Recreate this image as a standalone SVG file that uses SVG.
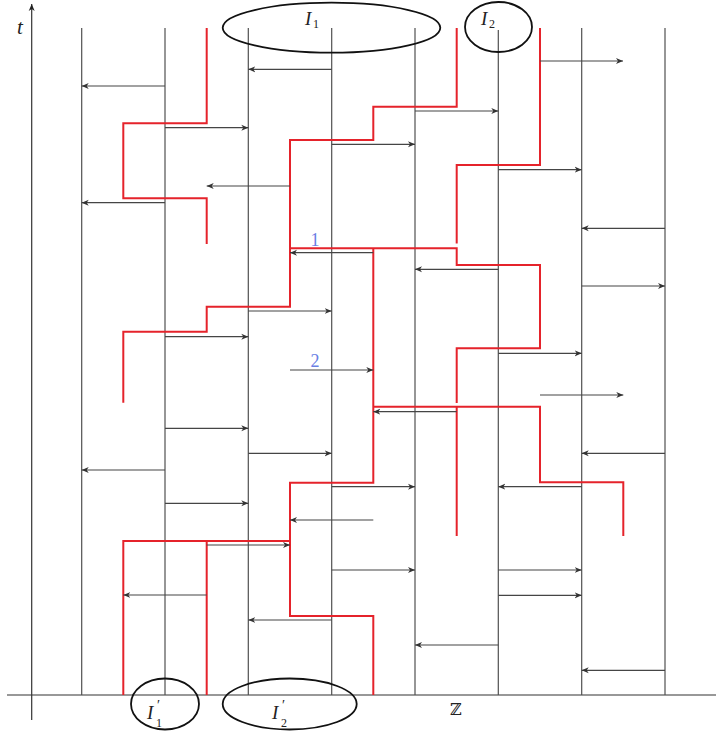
<svg xmlns="http://www.w3.org/2000/svg" width="716" height="732" viewBox="0 0 716 732">
<style>
.lane{stroke:#505050;stroke-width:1.2;fill:none}
.axis{stroke:#333;stroke-width:1.2;fill:none}
.arr{stroke:#454545;stroke-width:1.2;fill:none;marker-end:url(#ah)}
.red{stroke:#e5232b;stroke-width:2;fill:none;stroke-linejoin:miter}
.ell{stroke:#111;stroke-width:1.8;fill:none}
.lbl{font-family:"Liberation Serif","DejaVu Serif",serif;fill:#222}
.it{font-style:italic;font-size:19px}
.sub{font-size:12px}
.num{font-family:"Liberation Serif","DejaVu Serif",serif;fill:#6a80e4;font-size:18px}
</style>
<defs>
<marker id="ah" markerUnits="userSpaceOnUse" markerWidth="9" markerHeight="8" refX="7" refY="4" orient="auto">
<path d="M0,1 L7,4 L0,7 L2,4 z" fill="#333"/>
</marker>
<marker id="ahax" markerUnits="userSpaceOnUse" markerWidth="9" markerHeight="8" refX="7" refY="4" orient="auto">
<path d="M0,1 L7,4 L0,7 L2,4 z" fill="#222"/>
</marker>
</defs>
<rect width="716" height="732" fill="#fff"/>
<g id="axes">
<line class="axis" x1="7" y1="695" x2="716" y2="695"/>
<line class="axis" x1="31.7" y1="720" x2="31.7" y2="4" marker-end="url(#ahax)"/>
<text class="lbl" x="17" y="34" font-size="21" font-style="italic">t</text>
<text class="lbl" x="450" y="715" font-size="16" font-family="DejaVu Sans">ℤ</text>
</g>
<g id="lanes">
<line class="lane" x1="81.7" y1="28" x2="81.7" y2="695"/>
<line class="lane" x1="165" y1="28" x2="165" y2="695"/>
<line class="lane" x1="248.3" y1="28" x2="248.3" y2="695"/>
<line class="lane" x1="331.7" y1="28" x2="331.7" y2="695"/>
<line class="lane" x1="415" y1="28" x2="415" y2="695"/>
<line class="lane" x1="498.3" y1="30" x2="498.3" y2="695"/>
<line class="lane" x1="581.7" y1="28" x2="581.7" y2="695"/>
<line class="lane" x1="665" y1="28" x2="665" y2="695"/>
</g>
<g id="red-paths">
<path class="red" d="M206.7,28 V123.3 H123.3 V198.3 H206.7 V244"/>
<path class="red" d="M456.7,28 V106.7 H373.3 V140 H290 V306.7 H206.7 V331.7 H123.3 V402.7"/>
<path class="red" d="M540,28 V165 H456.7 V243.5"/>
<path class="red" d="M290,248.3 H456.7 V265 H540 V348.3 H456.7 V403"/>
<path class="red" d="M373.3,248.3 V482.7 H290 V616 H373.3 V695"/>
<path class="red" d="M373.3,406.7 H540 V482.3 H623.3 V536"/>
<path class="red" d="M456.7,406.7 V536"/>
<path class="red" d="M123.3,695 V541 H290 M206.7,541 V695"/>
</g>
<g id="connectors">
<line class="arr" x1="331.7" y1="69.3" x2="248.3" y2="69.3"/>
<line class="arr" x1="540" y1="61" x2="623" y2="61"/>
<line class="arr" x1="165" y1="86" x2="81.7" y2="86"/>
<line class="arr" x1="415" y1="111" x2="498.3" y2="111"/>
<line class="arr" x1="165" y1="127.7" x2="248.3" y2="127.7"/>
<line class="arr" x1="331.7" y1="144.3" x2="415" y2="144.3"/>
<line class="arr" x1="498.3" y1="169.7" x2="581.7" y2="169.7"/>
<line class="arr" x1="290" y1="186" x2="206.7" y2="186"/>
<line class="arr" x1="165" y1="202.7" x2="81.7" y2="202.7"/>
<line class="arr" x1="665" y1="228.3" x2="581.7" y2="228.3"/>
<line class="arr" x1="373.3" y1="252.7" x2="290" y2="252.7"/>
<line class="arr" x1="498.3" y1="269.3" x2="415" y2="269.3"/>
<line class="arr" x1="581.7" y1="286" x2="665" y2="286"/>
<line class="arr" x1="248.3" y1="311" x2="331.7" y2="311"/>
<line class="arr" x1="165" y1="336.7" x2="248.3" y2="336.7"/>
<line class="arr" x1="498.3" y1="353.3" x2="581.7" y2="353.3"/>
<line class="arr" x1="290" y1="370" x2="373.3" y2="370"/>
<line class="arr" x1="540" y1="395" x2="623.3" y2="395"/>
<line class="arr" x1="456.7" y1="411.7" x2="373.3" y2="411.7"/>
<line class="arr" x1="165" y1="428.3" x2="248.3" y2="428.3"/>
<line class="arr" x1="248.3" y1="453.3" x2="331.7" y2="453.3"/>
<line class="arr" x1="665" y1="453.3" x2="581.7" y2="453.3"/>
<line class="arr" x1="165" y1="470" x2="81.7" y2="470"/>
<line class="arr" x1="331.7" y1="486.7" x2="415" y2="486.7"/>
<line class="arr" x1="581.7" y1="486.7" x2="498.3" y2="486.7"/>
<line class="arr" x1="165" y1="503.3" x2="248.3" y2="503.3"/>
<line class="arr" x1="373.3" y1="520" x2="290" y2="520"/>
<line class="arr" x1="206.7" y1="545" x2="290" y2="545"/>
<line class="arr" x1="331.7" y1="570" x2="415" y2="570"/>
<line class="arr" x1="498.3" y1="570" x2="581.7" y2="570"/>
<line class="arr" x1="206.7" y1="595" x2="123.3" y2="595"/>
<line class="arr" x1="498.3" y1="595.3" x2="581.7" y2="595.3"/>
<line class="arr" x1="331.7" y1="620" x2="248.3" y2="620"/>
<line class="arr" x1="498.3" y1="645" x2="415" y2="645"/>
<line class="arr" x1="665" y1="670.3" x2="581.7" y2="670.3"/>
</g>
<g id="labels-numbers">
<text class="num" x="315" y="246" text-anchor="middle">1</text>
<text class="num" x="315" y="367" text-anchor="middle">2</text>
</g>
<g id="I1">
<ellipse class="ell" cx="331.5" cy="27.7" rx="108.8" ry="25"/>
<text class="lbl it" x="305" y="25">I</text>
<text class="lbl sub" x="313" y="28">1</text>
</g>
<g id="I2">
<ellipse class="ell" cx="498.5" cy="27" rx="33.5" ry="25"/>
<text class="lbl it" x="481" y="25">I</text>
<text class="lbl sub" x="489" y="28">2</text>
</g>
<g id="I1p">
<ellipse class="ell" cx="165" cy="704" rx="34" ry="25.5"/>
<text class="lbl it" x="147" y="719">I</text>
<text class="lbl" x="157" y="710" font-size="14">′</text>
<text class="lbl" x="156" y="727" font-size="12">1</text>
</g>
<g id="I2p">
<ellipse class="ell" cx="289.7" cy="704" rx="67" ry="25.5"/>
<text class="lbl it" x="272" y="719">I</text>
<text class="lbl" x="282" y="710" font-size="14">′</text>
<text class="lbl" x="281" y="727" font-size="12">2</text>
</g>
</svg>
